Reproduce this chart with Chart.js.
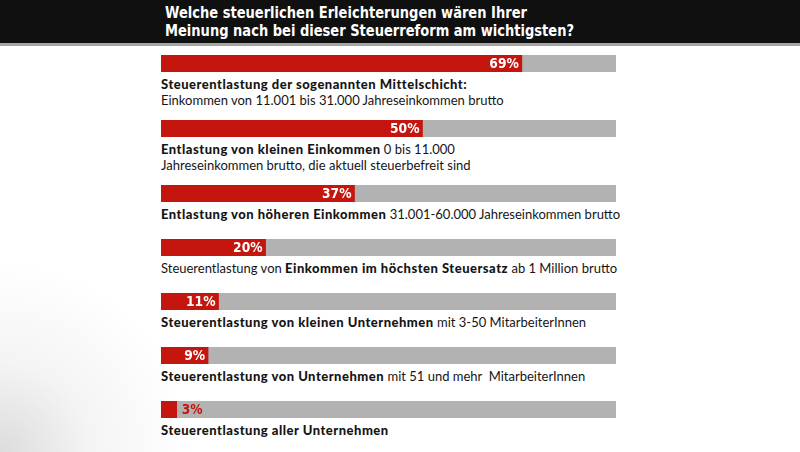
<!DOCTYPE html>
<html lang="de">
<head>
<meta charset="utf-8">
<title>Steuerreform Umfrage</title>
<script src="https://cdn.jsdelivr.net/npm/chart.js@4"></script>
<style>
    html, body { margin: 0; padding: 0; }
    body {
        width: 800px; height: 452px; overflow: hidden; position: relative;
        background: radial-gradient(circle at 0% 100%, #dcdcdc 0px, #f4f4f4 90px, #ffffff 190px);
        font-family: Lato, "Open Sans", sans-serif;
        color: #151515;
    }
    .kopf {
        position: absolute; left: 0; top: 0; width: 800px; height: 43px;
        background: #101010;
        border-bottom: 3px solid #a5a5a5;
    }
    .kopf h1 {
        margin: 0; position: absolute; left: 165px; top: 5px;
        display: block;
        font-family: "DejaVu Sans", sans-serif;
        font-weight: bold; font-size: 15px; line-height: 17.5px;
        color: #ffffff;
        white-space: nowrap;
        transform: scale(0.87, 1);
        transform-origin: 0 0;
    }
    #balken { position: absolute; left: 161px; top: 55px; width: 455px; }
    .zeile { margin-bottom: 17px; }
    .zeile.zwei { margin-bottom: 12px; }
    .bar-wrap { position: relative; width: 455px; height: 17px; }
    .text { margin-top: 4px; font-size: 13px; line-height: 16px; white-space: nowrap; }
    .text b { font-weight: 900; letter-spacing: 0.5px; }
</style>
</head>
<body>
<div class="kopf">
    <h1>Welche steuerlichen Erleichterungen wären Ihrer<br>Meinung nach bei dieser Steuerreform am wichtigsten?</h1>
</div>
<div id="balken"></div>

<script>
const kategorien = [
    'Mittelschicht',
    'Kleine Einkommen',
    'Höhere Einkommen',
    'Höchster Steuersatz',
    'Kleine Unternehmen',
    'Unternehmen ab 51',
    'Alle Unternehmen'
];
const prozente = [69, 50, 37, 20, 11, 9, 3];
const prozentLabels = ['69%', '50%', '37%', '20%', '11%', '9%', '3%'];
const beschriftungen = [
    ['<b>Steuerentlastung der sogenannten Mittelschicht:</b>', 'Einkommen von 11.001 bis 31.000 Jahreseinkommen brutto'],
    ['<b>Entlastung von kleinen Einkommen</b> 0 bis 11.000', 'Jahreseinkommen brutto, die aktuell steuerbefreit sind'],
    ['<b>Entlastung von höheren Einkommen</b> 31.001-60.000 Jahreseinkommen brutto'],
    ['Steuerentlastung von <b>Einkommen im höchsten Steuersatz</b> ab 1 Million brutto'],
    ['<b>Steuerentlastung von kleinen Unternehmen</b> mit 3-50 MitarbeiterInnen'],
    ['<b>Steuerentlastung von Unternehmen</b> mit 51 und mehr&nbsp; MitarbeiterInnen'],
    ['<b>Steuerentlastung aller Unternehmen</b>']
];
const achsenMax = 87;

const ROT = '#c5150f';
const GRAU = '#b2b2b2';
const PROZENT_FONT = 'bold 14px "DejaVu Sans", sans-serif';

// grauer Hintergrundbalken bis zum Achsenende
const spurPlugin = {
    id: 'spur',
    beforeDatasetsDraw(chart) {
        const { ctx, chartArea, scales } = chart;
        const x0 = scales.x.getPixelForValue(0);
        const x1 = scales.x.getPixelForValue(achsenMax);
        ctx.save();
        ctx.fillStyle = GRAU;
        ctx.fillRect(x0, chartArea.top, x1 - x0, chartArea.bottom - chartArea.top);
        ctx.restore();
    }
};

// Prozentwert am Balkenende, schmal gestaucht wie im Original
const prozentPlugin = {
    id: 'prozent',
    afterDatasetsDraw(chart, args, opts) {
        const { ctx } = chart;
        const bar = chart.getDatasetMeta(0).data[0];
        const wert = chart.data.datasets[0].data[0];
        const innen = wert >= 5;
        const x = innen ? bar.x - 3 : bar.x + 5;
        ctx.save();
        ctx.font = PROZENT_FONT;
        ctx.textBaseline = 'middle';
        ctx.translate(x, bar.y + 1);
        ctx.scale(0.88, 1.05);
        ctx.fillStyle = innen ? '#ffffff' : ROT;
        ctx.textAlign = innen ? 'right' : 'left';
        ctx.fillText(opts.text, 0, 0);
        ctx.restore();
    }
};

function zeichneZeile(i) {
    const container = document.getElementById('balken');
    const zeile = document.createElement('div');
    zeile.className = 'zeile' + (beschriftungen[i].length > 1 ? ' zwei' : '');
    zeile.innerHTML = `
        <div class="bar-wrap"><canvas id="bar-${i}"></canvas></div>
        <div class="text">${beschriftungen[i].join('<br>')}</div>
    `;
    container.appendChild(zeile);

    const ctx = document.getElementById(`bar-${i}`).getContext('2d');
    new Chart(ctx, {
        type: 'bar',
        data: {
            labels: [kategorien[i]],
            datasets: [{
                data: [prozente[i]],
                backgroundColor: ROT,
                borderWidth: 0,
                barPercentage: 1,
                categoryPercentage: 1
            }]
        },
        options: {
            indexAxis: 'y',
            responsive: true,
            maintainAspectRatio: false,
            animation: false,
            events: [],
            layout: { padding: 0 },
            plugins: {
                legend: { display: false },
                tooltip: { enabled: false },
                prozent: { text: prozentLabels[i] }
            },
            scales: {
                x: { display: false, min: 0, max: achsenMax },
                y: { display: false }
            }
        },
        plugins: [spurPlugin, prozentPlugin]
    });
}

prozente.forEach((_, i) => zeichneZeile(i));
</script>
</body>
</html>
